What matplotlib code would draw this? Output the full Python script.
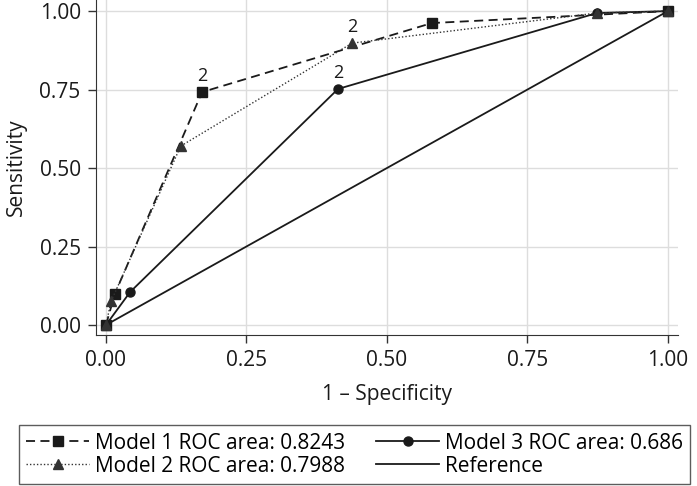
import matplotlib

matplotlib.use("Agg")

import matplotlib.pyplot as plt

plt.rcParams["font.family"] = ["Open Sans", "DejaVu Sans"]

# ROC points (1 - specificity, sensitivity)
model1_x = [0.0, 0.016, 0.171, 0.580, 1.0]
model1_y = [0.0, 0.100, 0.742, 0.962, 1.0]
model2_x = [0.0, 0.009, 0.133, 0.438, 0.874, 1.0]
model2_y = [0.0, 0.075, 0.570, 0.898, 0.994, 1.0]
model3_x = [0.0, 0.043, 0.413, 0.874, 1.0]
model3_y = [0.0, 0.105, 0.752, 0.994, 1.0]
ref_x = [0.0, 1.0]
ref_y = [0.0, 1.0]

labels = [
    "Model 1 ROC area: 0.8243",
    "Model 2 ROC area: 0.7988",
    "Model 3 ROC area: 0.686",
    "Reference",
]
# points marked "2" on the chart
note_x = [0.171, 0.438, 0.413]
note_y = [0.742, 0.898, 0.752]

ticks = [0.0, 0.25, 0.5, 0.75, 1.0]
tick_labels = ["0.00", "0.25", "0.50", "0.75", "1.00"]

fig = plt.figure(figsize=(6.97, 4.86), dpi=100)
ax = fig.add_axes([0.1377, 0.3107, 0.835, 0.689])

ax.set_xlim(-0.0178, 1.018)
ax.set_ylim(-0.032, 1.035)

ink = "#1a1a1a"
h1, = ax.plot(model1_x, model1_y, color=ink, lw=1.3, ls=(0, (5, 3)),
              marker="s", ms=6.5, zorder=3)
h3, = ax.plot(model3_x, model3_y, color=ink, lw=1.3, ls="-",
              marker="o", ms=6.5, zorder=3)
h2, = ax.plot(model2_x, model2_y, color="#333333", lw=1.0, ls=(0, (1, 1.5)),
              marker="^", ms=7.5, zorder=4)
href, = ax.plot(ref_x, ref_y, color=ink, lw=1.3, zorder=2)

for x, y in zip(note_x, note_y):
    ax.annotate("2", (x, y), xytext=(0, 5), textcoords="offset points",
                ha="center", va="bottom", fontsize=13, color=ink)

ax.set_xticks(ticks, tick_labels)
ax.set_yticks(ticks, tick_labels)
ax.tick_params(labelsize=15, color="#333333", length=6, width=1.0,
               labelcolor=ink, pad=5)
ax.grid(color="#dddddd", lw=1.0)
ax.set_axisbelow(True)
for side in ["top", "right"]:
    ax.spines[side].set_visible(False)
for side in ["left", "bottom"]:
    ax.spines[side].set_color("#333333")

ax.set_xlabel("1 – Specificity", fontsize=15, color=ink, labelpad=9)
ax.set_ylabel("Sensitivity", fontsize=15, color=ink, labelpad=9)

leg = fig.legend([h1, h2, h3, href], labels, ncol=2,
                 loc="lower left", bbox_to_anchor=(0.0273, 0.004),
                 borderaxespad=0, fontsize=15, frameon=True, fancybox=False,
                 edgecolor="#333333", handlelength=3.0, handletextpad=0.3,
                 borderpad=0.35, labelspacing=0.1, columnspacing=1.5)
leg.get_frame().set_linewidth(1.0)

fig.savefig("out.png", dpi=100)
